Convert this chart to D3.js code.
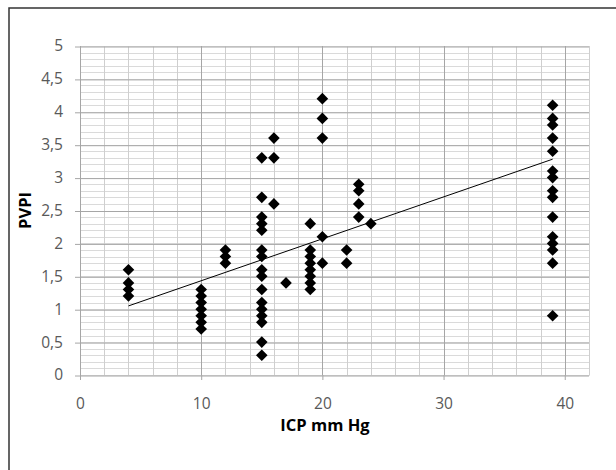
<!DOCTYPE html>
<html>
<head>
<meta charset="utf-8">
<script src="https://cdn.jsdelivr.net/npm/d3@7"></script>
<style>
  body { margin: 0; background: #fff; }
  text { font-family: "Open Sans", sans-serif; }
</style>
</head>
<body>
<div id="chart"></div>
<script>
// ICP (mm Hg) and PVPI, one entry per point
const icp = [
    4, 4, 4, 4,
    10, 10, 10, 10, 10, 10, 10,
    12, 12, 12,
    15, 15, 15, 15, 15, 15, 15, 15, 15, 15, 15, 15, 15, 15, 15, 15,
    16, 16, 16,
    17,
    19, 19, 19, 19, 19, 19, 19, 19,
    20, 20, 20, 20, 20,
    22, 22,
    23, 23, 23, 23,
    24,
    39, 39, 39, 39, 39, 39, 39, 39, 39, 39, 39, 39, 39, 39, 39
];
const pvpi = [
    1.6, 1.4, 1.3, 1.2,
    1.3, 1.2, 1.1, 1.0, 0.9, 0.8, 0.7,
    1.9, 1.8, 1.7,
    3.3, 2.7, 2.4, 2.3, 2.2, 1.9, 1.8, 1.6, 1.5, 1.3, 1.1, 1.0, 0.9, 0.8, 0.5, 0.3,
    3.6, 3.3, 2.6,
    1.4,
    2.3, 1.9, 1.8, 1.7, 1.6, 1.5, 1.4, 1.3,
    4.2, 3.9, 3.6, 2.1, 1.7,
    1.9, 1.7,
    2.9, 2.8, 2.6, 2.4,
    2.3,
    4.1, 3.9, 3.8, 3.6, 3.4, 3.1, 3.0, 2.8, 2.7, 2.4, 2.1, 2.0, 1.9, 1.7, 0.9
];

// linear trendline end points (as drawn in the picture)
const trendX = [4, 39];
const trendY = [1.05, 3.28];

const xTicks = [0, 10, 20, 30, 40];
const yTicks = [0, 0.5, 1, 1.5, 2, 2.5, 3, 3.5, 4, 4.5, 5];

const W = 616, H = 470;
const margin = { top: 46, right: 27, bottom: 95, left: 80 };
const width = W - margin.left - margin.right;
const height = H - margin.top - margin.bottom;

const svg = d3.select("#chart").append("svg")
    .attr("width", W)
    .attr("height", H);

// outer chart border (runs off the right and bottom edges)
svg.append("rect")
    .attr("x", 9).attr("y", 8)
    .attr("width", W + 20).attr("height", H + 20)
    .attr("fill", "none")
    .attr("stroke", "#333")
    .attr("stroke-width", 1.5);

const g = svg.append("g")
    .attr("transform", `translate(${margin.left},${margin.top})`);

const x = d3.scaleLinear().domain([0, 42]).range([0, width]);
const y = d3.scaleLinear().domain([0, 5]).range([height, 0]);

const comma = d3.formatLocale({ decimal: ",", thousands: ".", grouping: [3], currency: ["", ""] });
const fmt = comma.format("~g");

// minor horizontal grid every 0,1
g.append("g")
    .selectAll("line")
    .data(d3.range(0, 51).map(i => i / 10))
    .join("line")
    .attr("x1", 0).attr("x2", width)
    .attr("y1", d => Math.round(y(d)) + 0.5)
    .attr("y2", d => Math.round(y(d)) + 0.5)
    .attr("stroke", "#dadada");

// vertical grid every 2
g.append("g")
    .selectAll("line")
    .data(d3.range(0, 43, 2))
    .join("line")
    .attr("x1", d => Math.round(x(d)) + 0.5)
    .attr("x2", d => Math.round(x(d)) + 0.5)
    .attr("y1", 0).attr("y2", height)
    .attr("stroke", d => d % 10 === 0 ? "#a6a6a6" : "#cfcfcf");

// major horizontal grid + y axis ticks
g.append("g")
    .call(d3.axisLeft(y).tickValues(yTicks).tickSize(-width - 5).tickSizeOuter(0).tickFormat(fmt).tickPadding(12))
    .attr("transform", "translate(-5,0)")
    .call(a => a.select(".domain").remove())
    .call(a => a.selectAll(".tick line").attr("stroke", "#a6a6a6").attr("transform", "translate(0,0.5)"))
    .call(a => a.selectAll(".tick text").attr("fill", "#595959").style("font-size", "15.5px"));

// x axis
g.append("g")
    .attr("transform", `translate(0,${height})`)
    .call(d3.axisBottom(x).tickValues(xTicks).tickSize(5).tickSizeOuter(0))
    .call(a => a.select(".domain").attr("stroke", "#bfbfbf"))
    .call(a => a.selectAll(".tick line").attr("stroke", "#a6a6a6"))
    .call(a => a.selectAll(".tick text")
        .attr("y", 34).attr("dy", null)
        .attr("fill", "#595959").style("font-size", "15.5px"));

// trendline
g.append("path")
    .datum(trendX.map((d, i) => [d, trendY[i]]))
    .attr("fill", "none")
    .attr("stroke", "#000")
    .attr("stroke-width", 1)
    .attr("d", d3.line().x(d => x(d[0])).y(d => y(d[1])));

// diamond markers
const r = 5.8;
g.append("g")
    .selectAll("path")
    .data(icp.map((d, i) => [d, pvpi[i]]))
    .join("path")
    .attr("transform", d => `translate(${x(d[0])},${y(d[1])})`)
    .attr("d", `M0,${-r}L${r},0L0,${r}L${-r},0Z`)
    .attr("fill", "#000");

// axis titles
svg.append("text")
    .attr("x", 325)
    .attr("y", 431)
    .attr("text-anchor", "middle")
    .style("font-size", "16.5px")
    .style("font-weight", "bold")
    .text("ICP mm Hg");

svg.append("text")
    .attr("transform", `translate(31,${margin.top + height / 2}) rotate(-90)`)
    .attr("text-anchor", "middle")
    .style("font-size", "16.5px")
    .style("font-weight", "bold")
    .text("PVPI");
</script>
</body>
</html>
